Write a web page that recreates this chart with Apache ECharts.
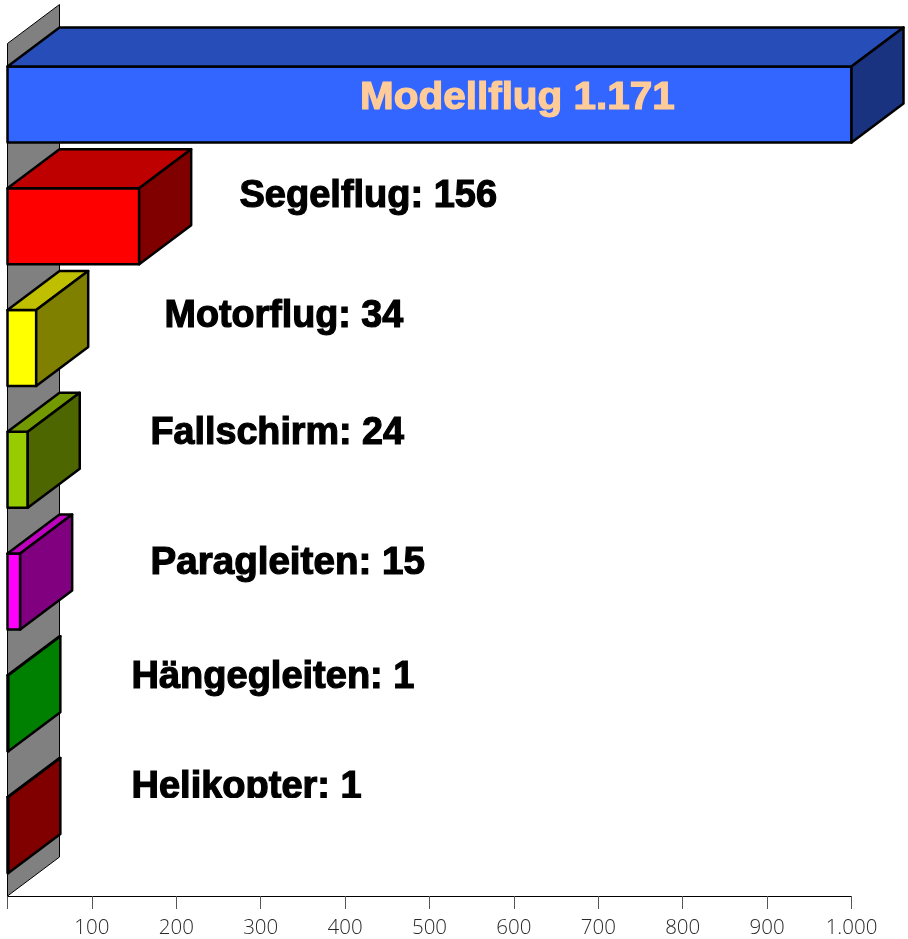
<!DOCTYPE html>
<html>
<head>
<meta charset="utf-8">
<style>
  html, body { margin: 0; padding: 0; background: #fff; }
  #chart { width: 908px; height: 939px; }
</style>
</head>
<body>
<div id="chart"></div>
<script src="https://cdn.jsdelivr.net/npm/echarts@6/dist/echarts.min.js"></script>
<script>
const categories = ['Modellflug', 'Segelflug', 'Motorflug', 'Fallschirm', 'Paragleiten', 'Hängegleiten', 'Helikopter']
const values = [1171, 156, 34, 24, 15, 1, 1]
const labelTexts = ['Modellflug 1.171', 'Segelflug: 156', 'Motorflug: 34', 'Fallschirm: 24', 'Paragleiten: 15', 'Hängegleiten: 1', 'Helikopter: 1']
const tickValues = [0, 1000, 100]

const frontColors = ['#3366ff', '#ff0000', '#ffff00', '#99cc00', '#ff00ff', '#00ff00', '#ff0000']
const topColors = ['#264db8', '#bf0000', '#bfbf00', '#739900', '#bf00bf', '#00bf00', '#bf0000']
const sideColors = ['#1a3380', '#800000', '#808000', '#4d6600', '#800080', '#008000', '#800000']

// pixel place of each label [left, baseline] and how much it is stretched
const labelPlaces = [[360, 109], [239.5, 207], [164.5, 327], [150.5, 444], [150.5, 574], [131.5, 688], [131.5, 798]]
const labelStretch = [1.065, 1, 0.992, 0.992, 1.015, 1, 1]

const depthX = 52
const depthY = 39
const barHeight = 76
const descent = 9

const chart = echarts.init(document.getElementById('chart'), null, { renderer: 'canvas' })

function poly(points, fill, lineWidth) {
  return {
    type: 'polygon',
    shape: { points: points },
    style: { fill: fill, stroke: '#000', lineWidth: lineWidth, lineJoin: 'round' }
  }
}

function renderWall(params, api) {
  const c = params.coordSys
  const x = c.x
  const t = c.y
  const b = c.y + c.height
  return poly([[x, t], [x + depthX, t - depthY], [x + depthX, b - depthY], [x, b]], '#808080', 1)
}

function renderBar(params, api) {
  const idx = api.value(1)
  const xMax = params.coordSys.x + params.coordSys.width
  const start = api.coord([0, idx])
  // Modellflug runs past the end of the axis, so the bar is cut there
  const x1 = Math.min(api.coord([api.value(0), idx])[0], xMax)
  const x0 = start[0]
  const y0 = start[1] - barHeight / 2
  const y1 = start[1] + barHeight / 2
  return {
    type: 'group',
    children: [
      poly([[x0, y0], [x1, y0], [x1, y1], [x0, y1]], frontColors[idx], 2.5),
      poly([[x0, y0], [x0 + depthX, y0 - depthY], [x1 + depthX, y0 - depthY], [x1, y0]], topColors[idx], 2.5),
      poly([[x1, y0], [x1 + depthX, y0 - depthY], [x1 + depthX, y1 - depthY], [x1, y1]], sideColors[idx], 2.5)
    ]
  }
}

function renderLabel(params, api) {
  const idx = api.value(1)
  const place = labelPlaces[idx]
  const color = idx === 0 ? '#ffcc99' : '#000'
  const el = {
    type: 'text',
    x: place[0],
    y: place[1] + descent,
    scaleX: labelStretch[idx],
    style: {
      text: labelTexts[idx],
      font: 'bold 38px "Liberation Sans", Arial, sans-serif',
      fill: color,
      stroke: color,
      lineWidth: 1.2,
      lineJoin: 'round',
      verticalAlign: 'bottom'
    }
  }
  // the last label loses everything under its baseline in the original
  if (idx === labelPlaces.length - 1) {
    el.clipPath = { type: 'rect', shape: { x: -5, y: -60, width: 400, height: 60 - descent } }
  }
  return el
}

const barData = values.map(function (v, i) { return [v, i] })

chart.setOption({
  animation: false,
  grid: { left: 7.5, right: 56.5, top: 43.5, height: 853 },
  xAxis: {
    type: 'value',
    min: tickValues[0],
    max: tickValues[1],
    interval: tickValues[2],
    splitLine: { show: false },
    axisLine: { show: true, onZero: false, lineStyle: { color: '#000', width: 1 } },
    axisTick: { show: true, length: 13, lineStyle: { color: '#555', width: 1 } },
    axisLabel: {
      margin: 22,
      color: '#2a2a2a',
      fontSize: 20.5,
      fontWeight: 300,
      fontFamily: '"Open Sans", sans-serif',
      formatter: function (v) {
        if (v === 0) return ''
        return v === 1000 ? '1.000' : String(v)
      }
    }
  },
  yAxis: {
    type: 'category',
    inverse: true,
    data: categories,
    axisLine: { show: false },
    axisTick: { show: false },
    axisLabel: { show: false }
  },
  series: [
    { type: 'custom', name: 'wall', renderItem: renderWall, data: [[0, 0]], clip: false, silent: true, z: 1 },
    { type: 'custom', name: 'bars', renderItem: renderBar, data: barData, encode: { x: 0, y: 1 }, clip: false, z: 2 },
    { type: 'custom', name: 'labels', renderItem: renderLabel, data: barData, encode: { x: 0, y: 1 }, clip: false, silent: true, z: 3 }
  ]
})
</script>
</body>
</html>
